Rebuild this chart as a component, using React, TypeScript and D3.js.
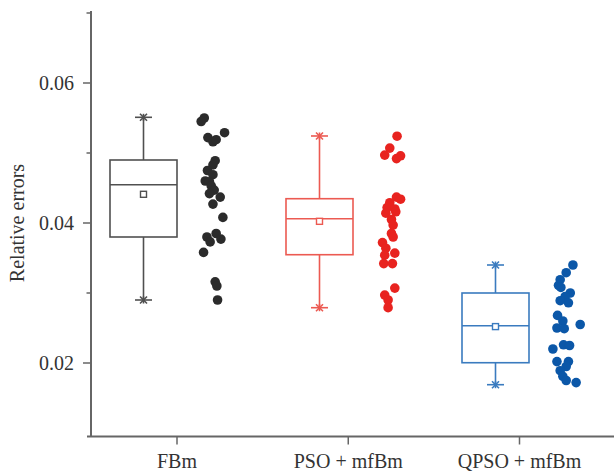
import React from "react";
import * as d3 from "d3";

const categories = ["FBm", "PSO + mfBm", "QPSO + mfBm"];
const majorTicks = [0.02, 0.04, 0.06];
const minorTicks = [0.03, 0.05, 0.07];

// box statistics
const boxMin = [0.029, 0.0279, 0.0169];
const boxQ1 = [0.038, 0.03547, 0.02004];
const boxMedian = [0.04547, 0.04061, 0.02533];
const boxQ3 = [0.049, 0.04347, 0.03];
const boxMax = [0.0551, 0.05243, 0.034];
const boxMean = [0.0441, 0.04024, 0.0252];

// raw points (values) with horizontal jitter (-1..1)
const fbmValues = [0.055, 0.0545, 0.0529, 0.0522, 0.0516, 0.0519, 0.0489, 0.0483, 0.0475, 0.0469, 0.046, 0.0459, 0.0453, 0.0447, 0.0442, 0.0437, 0.0427, 0.0408, 0.038, 0.0385, 0.0373, 0.0377, 0.0358, 0.0316, 0.031, 0.029];
const fbmJitter = [-0.66, -0.88, 0.79, -0.4, -0.04, 0.19, 0.12, -0.04, -0.43, -0.04, -0.59, -0.29, -0.16, 0.05, -0.29, 0.48, -0.04, 0.67, -0.47, 0.19, -0.24, 0.53, -0.71, 0.12, 0.24, 0.29];
const psoValues = [0.0524, 0.0507, 0.0497, 0.0492, 0.0496, 0.0437, 0.0434, 0.0429, 0.0422, 0.042, 0.0414, 0.0416, 0.0405, 0.0397, 0.0385, 0.038, 0.0372, 0.0364, 0.0357, 0.0354, 0.0342, 0.0342, 0.0307, 0.0297, 0.029, 0.0279];
const psoJitter = [0.54, 0.02, -0.34, 0.5, 0.79, 0.5, 0.79, 0.02, -0.17, 0.38, -0.26, 0.45, 0.14, 0.26, 0.14, 0.26, -0.5, -0.26, 0.38, -0.34, -0.41, 0.21, 0.38, -0.34, -0.1, -0.1];
const qpsoValues = [0.034, 0.0329, 0.0319, 0.0311, 0.0308, 0.03, 0.0295, 0.0289, 0.0286, 0.0268, 0.026, 0.0255, 0.025, 0.0249, 0.0226, 0.0225, 0.022, 0.0202, 0.0202, 0.0195, 0.0189, 0.0181, 0.0175, 0.0172];
const qpsoJitter = [0.53, 0.05, -0.38, -0.5, -0.33, 0.34, -0.02, -0.38, 0.21, -0.57, -0.19, 1.05, -0.61, -0.09, -0.14, 0.29, -0.9, -0.61, 0.21, 0.05, -0.38, -0.19, 0.05, 0.76];

const seriesValues = [fbmValues, psoValues, qpsoValues];
const seriesJitter = [fbmJitter, psoJitter, qpsoJitter];
const dotColors = ["#2b2b2b", "#e8231f", "#0b57a8"];
const boxColors = ["#505050", "#ec5a52", "#3a7bbf"];

const W = 616;
const H = 473;
const axisX = 91;
const axisY = 436.5;
const font = "'Liberation Serif', 'Times New Roman', serif";
const axisColor = "#666";

export default function App() {
  const y = d3.scaleLinear().domain([0.0095, 0.0703]).range([436.5, 10.9]);
  const xTick = d3.scalePoint<string>().domain(categories).range([177, 519.5]);
  const xBox = d3.scalePoint<string>().domain(categories).range([143.5, 495.5]);
  const dotOffset = 70;
  const jitterScale = d3.scaleLinear().domain([-1, 1]).range([-14, 14]);
  const boxHalf = 33.5;
  const capHalf = 8.5;
  const star = 3.5;

  return (
    <svg width={W} height={H} style={{ position: "absolute", left: 0, top: 0, background: "#fff" }}>
      {/* axes */}
      <line x1={axisX} x2={axisX} y1={y(0.0703)} y2={axisY} stroke={axisColor} strokeWidth={2} />
      <line x1={87} x2={614} y1={axisY} y2={axisY} stroke={axisColor} strokeWidth={2} />
      {majorTicks.map((t) => (
        <g key={"mj" + t}>
          <line x1={axisX - 8} x2={axisX} y1={y(t)} y2={y(t)} stroke={axisColor} strokeWidth={1.5} />
          <text x={74} y={y(t)} dy="0.35em" textAnchor="end" fontFamily={font} fontSize={20} fill="#333">
            {d3.format(".2f")(t)}
          </text>
        </g>
      ))}
      {minorTicks.map((t) => (
        <line key={"mn" + t} x1={axisX - 4.5} x2={axisX} y1={y(t)} y2={y(t)} stroke={axisColor} strokeWidth={1.5} />
      ))}
      {categories.map((c) => (
        <g key={"xt" + c}>
          <line x1={xTick(c)} x2={xTick(c)} y1={axisY} y2={axisY + 8} stroke={axisColor} strokeWidth={1.5} />
          <text x={xTick(c)} y={468} textAnchor="middle" fontFamily={font} fontSize={20} fill="#333">
            {c}
          </text>
        </g>
      ))}
      <text
        transform={`translate(24,${y(0.04)}) rotate(-90)`}
        textAnchor="middle"
        fontFamily={font}
        fontSize={20}
        fill="#333"
      >
        Relative errors
      </text>

      {/* boxes */}
      {categories.map((c, i) => {
        const cx = xBox(c) as number;
        const col = boxColors[i];
        return (
          <g key={"box" + c} stroke={col} strokeWidth={1.6} fill="none">
            <line x1={cx} x2={cx} y1={y(boxMax[i])} y2={y(boxQ3[i])} />
            <line x1={cx} x2={cx} y1={y(boxQ1[i])} y2={y(boxMin[i])} />
            <rect x={cx - boxHalf} width={boxHalf * 2} y={y(boxQ3[i])} height={y(boxQ1[i]) - y(boxQ3[i])} />
            <line x1={cx - boxHalf} x2={cx + boxHalf} y1={y(boxMedian[i])} y2={y(boxMedian[i])} />
            {[boxMax[i], boxMin[i]].map((v, k) => (
              <g key={k}>
                <line x1={cx - capHalf} x2={cx + capHalf} y1={y(v)} y2={y(v)} />
                <line x1={cx - star} x2={cx + star} y1={y(v) - star} y2={y(v) + star} />
                <line x1={cx - star} x2={cx + star} y1={y(v) + star} y2={y(v) - star} />
                <line x1={cx} x2={cx} y1={y(v) - star} y2={y(v) + star} />
              </g>
            ))}
            <rect x={cx - 3} y={y(boxMean[i]) - 3} width={6} height={6} fill="#fff" strokeWidth={1.4} />
          </g>
        );
      })}

      {/* points */}
      {categories.map((c, i) => {
        const cx = (xBox(c) as number) + dotOffset;
        return (
          <g key={"pts" + c} fill={dotColors[i]}>
            {seriesValues[i].map((v, k) => (
              <circle key={k} cx={cx + jitterScale(seriesJitter[i][k])} cy={y(v)} r={4.8} />
            ))}
          </g>
        );
      })}
    </svg>
  );
}
